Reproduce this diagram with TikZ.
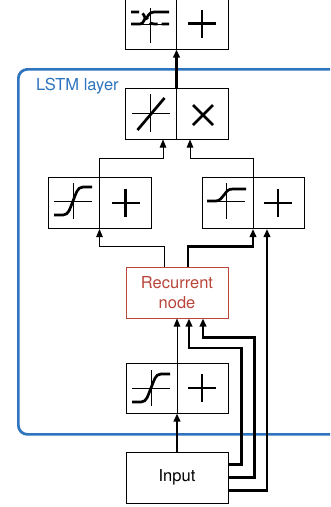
\documentclass[tikz,border=0pt]{standalone}
\usepackage{fontspec}
\setmainfont{TeX Gyre Heros}
\usetikzlibrary{arrows.meta}
\definecolor{layerblue}{RGB}{46,116,190}
\definecolor{recred}{RGB}{186,70,60}
\tikzset{
  wire/.style={line width=1pt},
  thickwire/.style={line width=2.3pt},
  arr/.style={-{Triangle[length=8pt,width=6.5pt]}},
  unitbox/.style={draw, line width=1pt, minimum width=103pt, minimum height=51pt, inner sep=0pt},
  glyph/.style={line width=2.7pt},
  axisline/.style={line width=0.9pt},
  txt/.style={font=\fontsize{16.5}{19.5}\selectfont},
  pics/tanhg/.style={code={
    \draw[axisline] (-19,0) -- (19,0) (0,-18) -- (0,18);
    \draw[glyph] (-19,14) -- (-10,14) .. controls (-4,14) and (-3,7) .. (0,0) .. controls (3,-7) and (4,-14) .. (10,-14) -- (19,-14);
  }},
  pics/sigg/.style={code={
    \draw[axisline] (-19,0) -- (19,0) (0,-18) -- (0,18);
    \draw[glyph] (-19,0) -- (-10,0) .. controls (-6,0) and (-4,-4) .. (-2,-6) .. controls (1,-10) and (2,-12) .. (7,-12) -- (20,-12);
  }},
  pics/gateg/.style={code={
    \draw[axisline] (-19,0) -- (19,0) (0,-16) -- (0,19);
    \draw[glyph] (-19,0) -- (-10,0) .. controls (-6,0) and (-6,-6) .. (-4,-6) .. controls (-2,-6) and (-2,-12) .. (4,-12) -- (19,-12);
    \draw[glyph, dash pattern=on 8pt off 4pt] (-19,-12) -- (-10,-12) .. controls (-6,-12) and (-6,-6) .. (-4,-6) .. controls (-2,-6) and (-2,0) .. (4,0) -- (19,0);
  }},
  pics/ling/.style={code={
    \draw[axisline] (-19,0) -- (19,0) (0,-19) -- (0,19);
    \draw[glyph] (-13,17) -- (14,-15);
  }},
  pics/plusg/.style={code={
    \draw[glyph] (-14,0) -- (14,0) (0,-14) -- (0,14);
  }},
  pics/timesg/.style={code={
    \draw[glyph] (-10,-10) -- (10,10) (-10,10) -- (10,-10);
  }},
}
\begin{document}
\begin{tikzpicture}[x=1pt,y=-1pt]
\useasboundingbox (0,0) rectangle (330,507);
\clip (0,0) rectangle (330,507);
\fill[white] (0,0) rectangle (330,507);

% LSTM layer frame
\node[draw=layerblue, line width=2.7pt, rounded corners=9pt, anchor=north west,
      minimum width=340pt, minimum height=365pt, inner sep=0pt] (layer) at (17,68) {};
\node[txt, text=layerblue, anchor=base west] (layerlabel) at (32.5,90) {LSTM layer};

% boxes
\node[unitbox] (topbox) at (176.5,23.5) {};
\node[unitbox] (gatebox) at (176.5,113.5) {};
\node[unitbox] (cellA) at (99.5,203) {};
\node[unitbox, minimum width=102pt] (cellB) at (253,203) {};
\node[draw=recred, line width=1pt, minimum width=102pt, minimum height=51pt, inner sep=0pt,
      txt, text=recred, align=center] (rec) at (177,292.5) {Recurrent\\node};
\node[unitbox, minimum width=102pt, minimum height=50pt] (inbox) at (177,388) {};
\node[unitbox, minimum width=102pt, txt] (inp) at (177,477.5) {Input};

% dividers
\foreach \b in {topbox,gatebox,cellA,cellB,inbox}
  \draw[line width=1pt] (\b.north) -- (\b.south);

% glyphs
\pic at (150,24) {gateg};
\pic at (202,23.5) {plusg};
\pic at (150.5,113) {ling};
\pic at (203,115) {timesg};
\pic at (73,201) {tanhg};
\pic at (125.5,203) {plusg};
\pic at (226,201) {sigg};
\pic at (278,203) {plusg};
\pic at (151,388) {tanhg};
\pic at (202,388) {plusg};

% wires
\draw[thickwire,arr] (gatebox.north) -- (topbox.south);
\draw[wire,arr] (cellA.north) -- ++(0,-19) -| ([xshift=-13.5pt]gatebox.south);
\draw[wire,arr] (cellB.north) -- ++(0,-19) -| ([xshift=13.5pt]gatebox.south);
\draw[wire,arr] ([xshift=-13pt]rec.north) -- ++(0,-20) -| (cellA.south);
\draw[thickwire,arr] ([xshift=11pt]rec.north) -- ++(0,-20) -| (cellB.south);
\draw[thickwire,arr] ([yshift=-13pt]inp.east) -| ([xshift=14pt]cellB.south);
\draw[thickwire,arr] (inp.east) -- ++(26,0) -- ++(0,-140) -| ([xshift=26pt]rec.south);
\draw[thickwire,arr] ([yshift=13pt]inp.east) -- ++(13,0) -- ++(0,-116.5) -| ([xshift=12pt]rec.south);
\draw[wire,arr] (inbox.north) -- (rec.south);
\draw[thickwire,arr] (inp.north) -- (inbox.south);
\end{tikzpicture}
\end{document}
